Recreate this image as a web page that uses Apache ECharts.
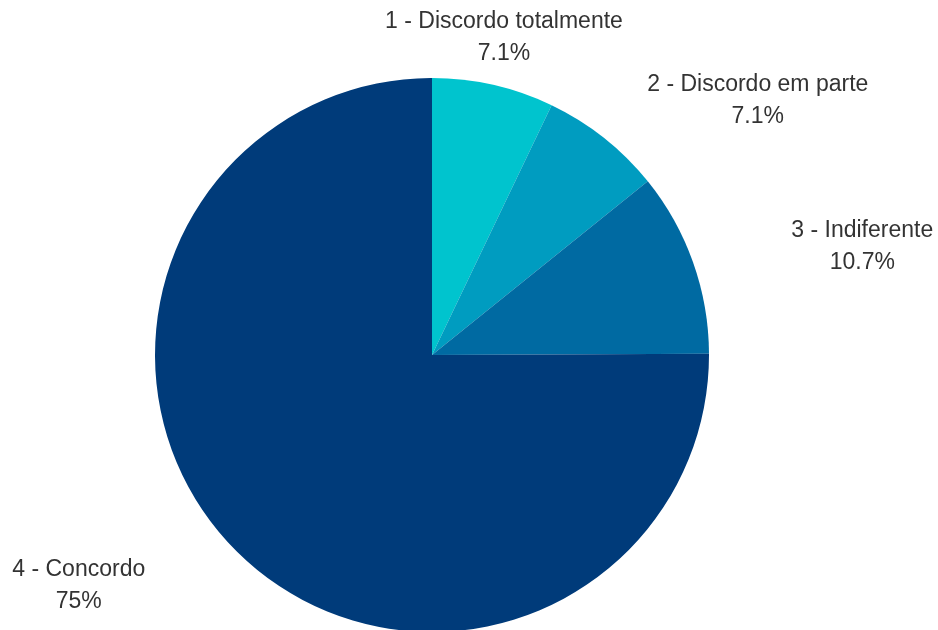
<!DOCTYPE html>
<html>
<head>
<meta charset="utf-8">
<script src="https://cdn.jsdelivr.net/npm/echarts@6/dist/echarts.min.js"></script>
<style>
html,body{margin:0;padding:0;background:#fff;}
#chart{width:938px;height:630px;}
</style>
</head>
<body>
<div id="chart"></div>
<script>
const categories = ['1 - Discordo totalmente', '2 - Discordo em parte', '3 - Indiferente', '4 - Concordo'];
const percentages = [7.1, 7.1, 10.7, 75];
const colors = ['#00C4CE', '#009CC0', '#006AA2', '#003B7A'];

const CX = 432, CY = 355, R = 277;
const chart = echarts.init(document.getElementById('chart'), null, {renderer: 'canvas'});

const data = categories.map((c, i) => ({name: c, value: percentages[i], itemStyle: {color: colors[i]}}));

chart.setOption({
  backgroundColor: '#ffffff',
  animation: false,
  series: [{
    type: 'pie',
    center: [CX, CY],
    radius: R,
    startAngle: 90,
    clockwise: true,
    data: data,
    itemStyle: {borderWidth: 0},
    emphasis: {disabled: true},
    label: {
      show: true,
      position: 'outside',
      fontFamily: 'Liberation Sans',
      fontSize: 23,
      color: '#333333',
      formatter: function (p) {
        return '{n|' + p.name + '}\n{n|' + p.value + '%}';
      },
      rich: {
        n: {align: 'center', fontFamily: 'Liberation Sans', fontSize: 23, lineHeight: 32, color: '#333333'}
      }
    },
    labelLine: {show: false, length: 48, length2: 0},
    labelLayout: function (p) {
      const r = p.labelRect;
      const rightSide = p.align === 'left';
      const ax = rightSide ? r.x - 5 : r.x + r.width + 5;
      const ay = r.y + r.height / 2;
      const ndx = (ax - CX) / Math.hypot(ax - CX, ay - CY);
      const t = Math.min(1, Math.max(0, (Math.abs(ndx) - 0.25) / 0.3));
      return {x: ax + Math.sign(ndx) * 124 * t, y: ay, align: 'center', verticalAlign: 'middle'};
    }
  }]
});
</script>
</body>
</html>
